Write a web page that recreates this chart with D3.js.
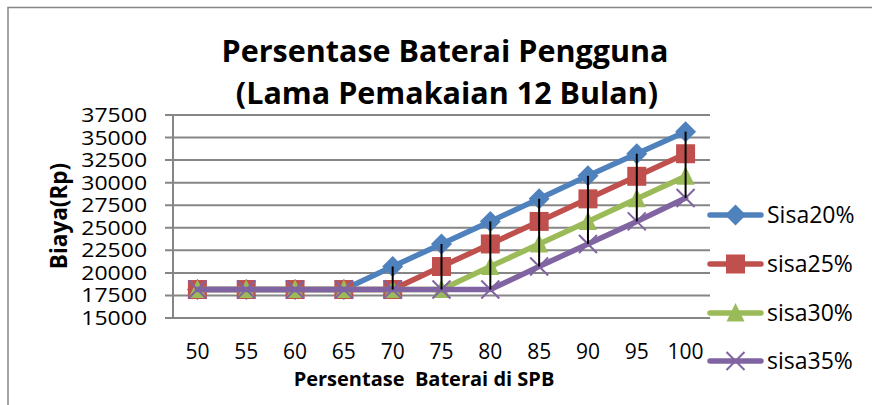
<!DOCTYPE html>
<html>
<head>
<meta charset="utf-8">
<script src="https://cdn.jsdelivr.net/npm/d3@7"></script>
<style>
  body { margin: 0; background: #fff; }
  text { font-family: "Open Sans", sans-serif; fill: #000; }
</style>
</head>
<body>
<div id="vizcontainer"></div>
<script>
const width = 872,
  height = 405;

// data
const categories = ['50', '55', '60', '65', '70', '75', '80', '85', '90', '95', '100'];
const sisa20 = [18100, 18100, 18100, 18100, 20650, 23150, 25650, 28150, 30700, 33150, 35600];
const sisa25 = [18100, 18100, 18100, 18100, 18100, 20650, 23150, 25650, 28150, 30650, 33150];
const sisa30 = [18100, 18100, 18100, 18100, 18100, 18100, 20650, 23150, 25650, 28150, 30650];
const sisa35 = [18100, 18100, 18100, 18100, 18100, 18100, 18100, 20650, 23150, 25650, 28250];
const seriesNames = ['Sisa20%', 'sisa25%', 'sisa30%', 'sisa35%'];
const yTicks = [15000, 17500, 20000, 22500, 25000, 27500, 30000, 32500, 35000, 37500];

const colors = ['#4f81bd', '#c0504d', '#9bbb59', '#8064a2'];
const shapes = ['diamond', 'square', 'triangle', 'cross'];
const allSeries = [sisa20, sisa25, sisa30, sisa35];

let svg = d3.select('#vizcontainer')
  .append('svg')
  .attr('width', width)
  .attr('height', height);

// chart border
svg.append('path')
  .attr('d', 'M8,410 V7.5 H880')
  .attr('fill', 'none')
  .attr('stroke', '#868686')
  .attr('stroke-width', 1.5);

const x = d3.scalePoint().domain(categories).range([173, 710]).padding(0.5);
const y = d3.scaleLinear().domain([15000, 37500]).range([317.5, 114.5]);

// gridlines + y axis
const yAxis = d3.axisLeft(y).tickValues(yTicks).tickSize(8).tickFormat(d3.format('d'));
svg.append('g')
  .attr('transform', 'translate(173,0)')
  .call(yAxis)
  .call(g => g.select('.domain').attr('stroke', '#868686').attr('stroke-width', 2).attr('d', `M0,${y(15000)}V${y(37500)}`))
  .call(g => g.selectAll('.tick line').attr('stroke', '#868686').attr('stroke-width', 2).attr('x2', 710 - 173).attr('x1', -8))
  .call(g => g.selectAll('.tick text').attr('x', -22).attr('dy', '0.36em')
    .style('font-size', '19.5px').attr('transform', 'scale(1.18,1)').attr('fill', '#000'));

// x labels
svg.append('g')
  .selectAll('text')
  .data(categories)
  .join('text')
  .attr('x', d => x(d))
  .attr('y', 359)
  .attr('text-anchor', 'middle')
  .style('font-size', '21px')
  .text(d => d);

function marker(sel, shape, color) {
  if (shape === 'diamond') {
    sel.append('path').attr('d', 'M0,-10.5L10.5,0L0,10.5L-10.5,0Z').attr('fill', color);
  } else if (shape === 'square') {
    sel.append('rect').attr('x', -9.5).attr('y', -9.5).attr('width', 19).attr('height', 19).attr('fill', color);
  } else if (shape === 'triangle') {
    sel.append('path').attr('d', 'M0,-10L9,8.5L-9,8.5Z').attr('fill', color);
  } else {
    sel.append('path').attr('d', 'M-9,-9L9,9M9,-9L-9,9').attr('stroke', color).attr('stroke-width', 2);
  }
}

const line = d3.line().x((d, i) => x(categories[i])).y(d => y(d));

allSeries.forEach((vals, s) => {
  const g = svg.append('g');
  g.append('path')
    .datum(vals)
    .attr('d', line)
    .attr('fill', 'none')
    .attr('stroke', colors[s])
    .attr('stroke-width', 5.5)
    .attr('stroke-linejoin', 'round')
    .attr('stroke-linecap', 'round');
  g.selectAll('g.pt')
    .data(vals)
    .join('g')
    .attr('class', 'pt')
    .attr('transform', (d, i) => `translate(${x(categories[i])},${y(d)})`)
    .each(function () { marker(d3.select(this), shapes[s], colors[s]); });
});

// high-low lines
svg.append('g')
  .selectAll('line')
  .data(categories)
  .join('line')
  .attr('x1', d => x(d))
  .attr('x2', d => x(d))
  .attr('y1', (d, i) => y(d3.max(allSeries, v => v[i])))
  .attr('y2', (d, i) => y(d3.min(allSeries, v => v[i])))
  .attr('stroke', '#000')
  .attr('stroke-width', 2);

// title
svg.append('text')
  .attr('x', 445).attr('y', 62)
  .attr('text-anchor', 'middle')
  .style('font-size', '30.5px').style('font-weight', 'bold')
  .text('Persentase Baterai Pengguna');
svg.append('text')
  .attr('x', 447).attr('y', 104)
  .attr('text-anchor', 'middle')
  .style('font-size', '30.5px').style('font-weight', 'bold')
  .text('(Lama Pemakaian 12 Bulan)');

// axis titles
svg.append('text')
  .attr('transform', 'translate(67,216) rotate(-90)')
  .attr('text-anchor', 'middle')
  .style('font-size', '22.5px').style('font-weight', 'bold')
  .text('Biaya(Rp)');
svg.append('text')
  .attr('x', 424).attr('y', 386)
  .attr('text-anchor', 'middle')
  .style('font-size', '20px').style('font-weight', 'bold')
  .style('white-space', 'pre')
  .text('Persentase  Baterai di SPB');

// legend
const legendY = [215, 264, 313, 361];
const lg = svg.append('g')
  .selectAll('g')
  .data(seriesNames)
  .join('g')
  .attr('transform', (d, i) => `translate(708,${legendY[i]})`);
lg.append('line')
  .attr('x1', 2).attr('x2', 53)
  .attr('stroke', (d, i) => colors[i])
  .attr('stroke-width', 5.5)
  .attr('stroke-linecap', 'round');
lg.append('g')
  .attr('transform', 'translate(27.5,0)')
  .each(function (d, i) { marker(d3.select(this), shapes[i], colors[i]); });
lg.append('text')
  .attr('x', 59).attr('dy', '0.36em')
  .style('font-size', '23px')
  .text(d => d);
</script>
</body>
</html>
